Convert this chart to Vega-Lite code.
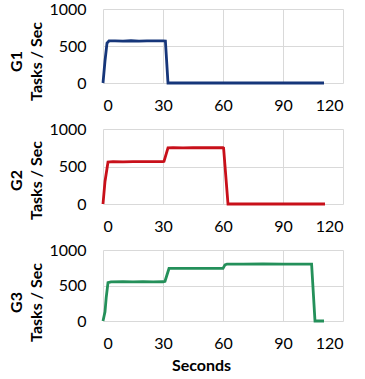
{
  "$schema": "https://vega.github.io/schema/vega-lite/v6.json",
  "background": "white",
  "padding": {"top": 1, "left": 8, "right": 2, "bottom": 1},
  "spacing": 46,
  "bounds": "flush",
  "config": {
    "view": {"stroke": null},
    "font": "Lato",
    "axis": {
      "grid": true,
      "gridColor": "#d9d9d9",
      "gridWidth": 1,
      "domain": false,
      "ticks": false,
      "labelFont": "Lato",
      "labelFontSize": 16,
      "labelColor": "#000000",
      "titleFont": "Lato",
      "titleFontSize": 16,
      "titleFontWeight": "bold",
      "titleColor": "#000000"
    }
  },
  "datasets": {
    "g1": [
      {"t": 0, "v": 0}, {"t": 1, "v": 300}, {"t": 2, "v": 540}, {"t": 3, "v": 568},
      {"t": 6, "v": 570}, {"t": 10, "v": 566}, {"t": 14, "v": 571}, {"t": 18, "v": 567},
      {"t": 22, "v": 570}, {"t": 26, "v": 568}, {"t": 30, "v": 570}, {"t": 31.2, "v": 568},
      {"t": 32.5, "v": 0}, {"t": 110.5, "v": 0}
    ],
    "g2": [
      {"t": 0, "v": 0}, {"t": 1, "v": 300}, {"t": 2.5, "v": 560}, {"t": 5, "v": 565},
      {"t": 10, "v": 563}, {"t": 15, "v": 566}, {"t": 20, "v": 564}, {"t": 25, "v": 566},
      {"t": 30, "v": 565}, {"t": 30.5, "v": 568}, {"t": 32.5, "v": 750}, {"t": 35, "v": 752},
      {"t": 40, "v": 749}, {"t": 45, "v": 751}, {"t": 50, "v": 750}, {"t": 55, "v": 752},
      {"t": 60, "v": 750}, {"t": 60.3, "v": 745}, {"t": 62.5, "v": 0}, {"t": 111, "v": 0}
    ],
    "g3": [
      {"t": 0, "v": 0}, {"t": 1, "v": 130}, {"t": 1.6, "v": 330}, {"t": 2.5, "v": 540},
      {"t": 4, "v": 552}, {"t": 10, "v": 554}, {"t": 15, "v": 551}, {"t": 20, "v": 553},
      {"t": 25, "v": 552}, {"t": 30, "v": 553}, {"t": 31, "v": 560}, {"t": 33, "v": 740},
      {"t": 40, "v": 742}, {"t": 45, "v": 740}, {"t": 50, "v": 741}, {"t": 55, "v": 742},
      {"t": 60, "v": 741}, {"t": 61, "v": 790}, {"t": 62, "v": 802}, {"t": 70, "v": 801},
      {"t": 80, "v": 803}, {"t": 90, "v": 801}, {"t": 100, "v": 802}, {"t": 104.3, "v": 800},
      {"t": 106, "v": 0}, {"t": 110.5, "v": 0}
    ]
  },
  "vconcat": [
    {
      "width": 240,
      "height": 74,
      "data": {"name": "g1"},
      "mark": {"type": "line", "color": "#16367a", "strokeWidth": 2.8},
      "encoding": {
        "x": {"field": "t", "type": "quantitative", "scale": {"domain": [0, 120], "nice": false},
              "axis": {"values": [0, 30, 60, 90, 120], "title": null, "labelPadding": 14}},
        "y": {"field": "v", "type": "quantitative", "scale": {"domain": [0, 1000], "nice": false},
              "axis": {"values": [0, 500, 1000], "format": "d", "title": ["G1", "Tasks / Sec"], "titleY": 52, "titleLineHeight": 20, "labelPadding": 17, "titlePadding": 4}}
      }
    },
    {
      "width": 240,
      "height": 75,
      "data": {"name": "g2"},
      "mark": {"type": "line", "color": "#c8101a", "strokeWidth": 2.8},
      "encoding": {
        "x": {"field": "t", "type": "quantitative", "scale": {"domain": [0, 120], "nice": false},
              "axis": {"values": [0, 30, 60, 90, 120], "title": null, "labelPadding": 14}},
        "y": {"field": "v", "type": "quantitative", "scale": {"domain": [0, 1000], "nice": false},
              "axis": {"values": [0, 500, 1000], "format": "d", "title": ["G2", "Tasks / Sec"], "titleY": 51, "titleLineHeight": 20, "labelPadding": 17, "titlePadding": 4}}
      }
    },
    {
      "width": 240,
      "height": 71,
      "data": {"name": "g3"},
      "mark": {"type": "line", "color": "#24905a", "strokeWidth": 2.8},
      "encoding": {
        "x": {"field": "t", "type": "quantitative", "scale": {"domain": [0, 120], "nice": false},
              "axis": {"values": [0, 30, 60, 90, 120], "title": "Seconds", "titleX": 98, "titlePadding": 6, "labelPadding": 14}},
        "y": {"field": "v", "type": "quantitative", "scale": {"domain": [0, 1000], "nice": false},
              "axis": {"values": [0, 500, 1000], "format": "d", "title": ["G3", "Tasks / Sec"], "titleY": 52, "titleLineHeight": 20, "labelPadding": 17, "titlePadding": 4}}
      }
    }
  ]
}
